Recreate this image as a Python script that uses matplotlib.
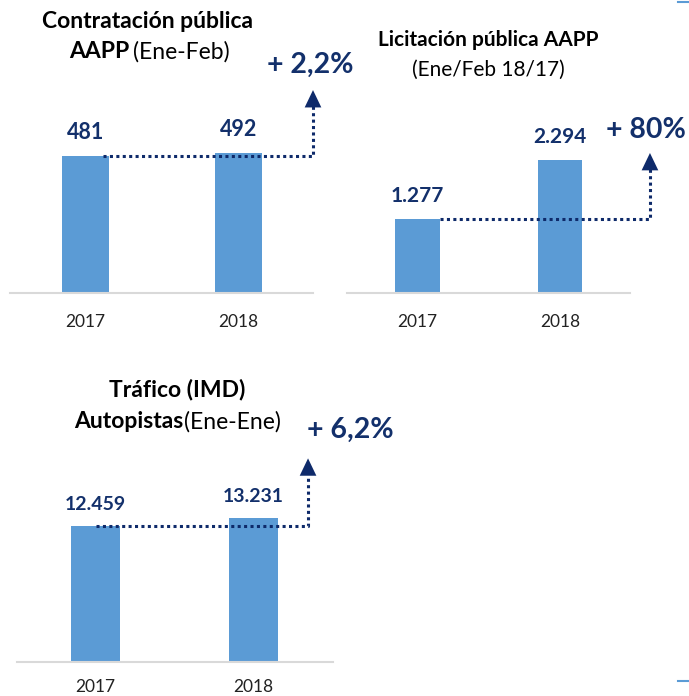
import matplotlib.pyplot as plt
from matplotlib.lines import Line2D

plt.rcParams['font.family'] = ['Lato', 'DejaVu Sans']

years = ['2017', '2018']
contratacion = [481, 492]
licitacion = [1277, 2294]
trafico = [12459, 13231]
labels_contratacion = ['481', '492']
labels_licitacion = ['1.277', '2.294']
labels_trafico = ['12.459', '13.231']
growth = ['+ 2,2%', '+ 80%', '+ 6,2%']

W, H = 689, 696
bar_col = '#5B9BD5'
navy = '#13306B'
arrow_col = '#0E2A6A'

fig = plt.figure(figsize=(W / 100, H / 100), dpi=100)


def px(x, y):
    return x / W, 1 - y / H


def panel(left, right, top, base, xl, xr, ymax, vals, labs, bend_x, tip_y, start_x,
          lab_size, tick_pad):
    ax = fig.add_axes([left / W, 1 - base / H, (right - left) / W, (base - top) / H])
    x = [0, 1]
    ax.bar(x, vals, width=0.31, color=bar_col, zorder=2)
    ax.set_xlim(xl, xr)
    ax.set_ylim(0, ymax)
    for s in ['top', 'right', 'left']:
        ax.spines[s].set_visible(False)
    ax.spines['bottom'].set_color('#D9D9D9')
    ax.spines['bottom'].set_linewidth(1.5)
    ax.set_yticks([])
    ax.set_xticks(x)
    ax.set_xticklabels(years, fontsize=12.5, color='#222222')
    ax.tick_params(axis='x', length=0, pad=tick_pad)
    for xi, v, t in zip(x, vals, labs):
        ax.annotate(t, (xi, v), xytext=(0, 9), textcoords='offset points',
                    ha='center', va='bottom', fontsize=lab_size, fontweight='bold',
                    color=navy)
    # dotted connector
    ax.plot([start_x, bend_x, bend_x], [vals[0], vals[0], tip_y * 0.92],
            ls=(0, (1, 1.1)), lw=2.2, color=arrow_col, clip_on=False, zorder=3)
    ax.annotate('', xy=(bend_x, tip_y), xytext=(bend_x, tip_y * 0.9),
                arrowprops=dict(arrowstyle='-|>,head_length=1.25,head_width=0.6',
                                color=arrow_col, lw=0, shrinkA=0, shrinkB=0),
                annotation_clip=False)
    return ax


panel(10, 313, 8, 293, -0.495, 1.49, 1000, contratacion, labels_contratacion,
      1.49, 712, 0.115, 15.5, 15)
panel(347, 630, 3, 293, -0.495, 1.49, 5000, licitacion, labels_licitacion,
      1.63, 2414, 0.158, 15, 15)
panel(17, 333, 389, 662, -0.497, 1.503, 25000, trafico, labels_trafico,
      1.345, 18647, 0.0, 14, 12)

# titles
fig.text(*px(148, 22), 'Contratación pública', ha='center', va='center',
         fontsize=16.5, fontweight='bold', color='black')
fig.text(*px(69, 52), 'AAPP', ha='left', va='center', fontsize=16.5,
         fontweight='bold', color='black')
fig.text(*px(133, 52), '(Ene-Feb)', ha='left', va='center', fontsize=16.5,
         color='black')

fig.text(*px(488, 40), 'Licitación pública AAPP', ha='center', va='center',
         fontsize=15, fontweight='bold', color='black')
fig.text(*px(488, 70), '(Ene/Feb 18/17)', ha='center', va='center',
         fontsize=15, color='black')

fig.text(*px(177, 389), 'Tráfico (IMD)', ha='center', va='center',
         fontsize=16.5, fontweight='bold', color='black')
fig.text(*px(183, 422), 'Autopistas', ha='right', va='center', fontsize=16.5,
         fontweight='bold', color='black')
fig.text(*px(184, 422), '(Ene-Ene)', ha='left', va='center', fontsize=16.5,
         color='black')

# growth labels
for (gx, gy), g in zip([(310, 65), (646, 130), (350, 430)], growth):
    fig.text(*px(gx, gy), g, ha='center', va='center', fontsize=20.5,
             fontweight='bold', color=navy)

# little edge marks
for yy in [2, 681]:
    fig.add_artist(Line2D([678 / W, 1], [1 - yy / H] * 2, color=bar_col, lw=1.5))

fig.savefig('out.png', dpi=100)
